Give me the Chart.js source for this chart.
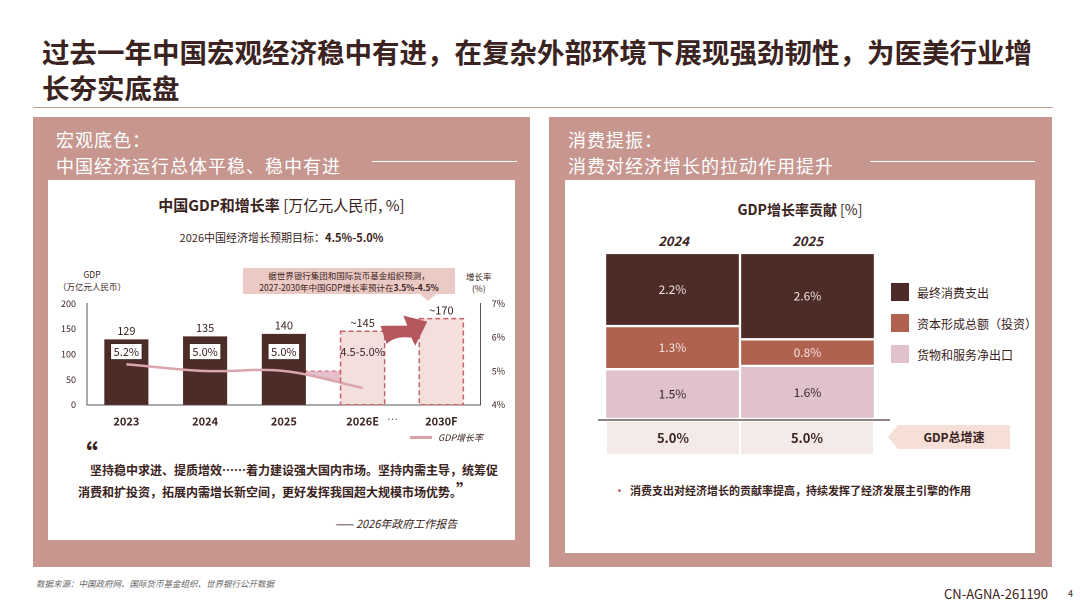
<!DOCTYPE html>
<html><head><meta charset="utf-8">
<script src="https://cdn.jsdelivr.net/npm/chart.js@4"></script>
<style>
body{margin:0;width:1080px;height:609px;background:#fff;font-family:"Noto Sans CJK SC","Noto Sans",sans-serif;position:relative;overflow:hidden;color:#3a2320}
.a{position:absolute}
.panel{background:#c6968f}
.card{background:#fff}
.hd{color:#fff;font-size:18px;line-height:26px;letter-spacing:1px}
.lg{display:flex;align-items:center;font-size:12px;margin-bottom:13px}
.lg i{display:inline-block;width:18px;height:18px;margin-right:8px}
</style></head><body>
<div class="a" style="left:42px;top:33px;font-size:27.5px;font-weight:700;line-height:36px;width:995px">过去一年中国宏观经济稳中有进，在复杂外部环境下展现强劲韧性，为医美行业增长夯实底盘</div>
<div class="a" style="left:33px;top:107px;width:1020px;height:1px;background:#c6968f"></div>

<div class="a panel" style="left:33px;top:117px;width:497px;height:450px"></div>
<div class="a hd" style="left:56px;top:126px">宏观底色：<br>中国经济运行总体平稳、稳中有进</div>
<div class="a" style="left:372px;top:161px;width:145px;height:1px;background:#fff"></div>
<div class="a card" style="left:48px;top:180px;width:467px;height:360px"></div>
<div class="a" style="left:48px;top:194px;width:467px;text-align:center;font-size:15px"><b>中国GDP和增长率</b> [万亿元人民币, %]</div>
<div class="a" style="left:48px;top:229px;width:467px;text-align:center;font-size:11px">2026中国经济增长预期目标：<b>4.5%-5.0%</b></div>
<div class="a" style="left:58px;top:268px;font-size:8.5px;text-align:center;line-height:12px">GDP<br>（万亿元人民币）</div>
<div class="a" style="left:466px;top:270px;font-size:8.5px;text-align:center;line-height:12px">增长率<br>(%)</div>
<div class="a" style="left:243px;top:268px;width:212px;height:26px;background:#ebc9c4"></div>
<div class="a" style="left:243px;top:269px;width:212px;text-align:center;font-size:8.5px;line-height:12px">据世界银行集团和国际货币基金组织预测，<br>2027-2030年中国GDP增长率预计在<b>3.5%-4.5%</b></div>
<div class="a" style="left:420px;top:294px;width:0;height:0;border-left:8px solid transparent;border-right:8px solid transparent;border-top:7px solid #ebc9c4"></div>
<canvas id="gdp" class="a" width="450" height="135" style="left:58px;top:295px"></canvas>
<div class="a" style="left:387px;top:410px;font-size:11px;color:#555;font-family:'DejaVu Sans'">…</div>
<div class="a" style="left:410px;top:431px;font-size:9px;font-style:italic;display:flex;align-items:center"><span style="display:inline-block;width:22px;height:3px;background:#d9a0a8;margin-right:6px"></span>GDP增长率</div>
<div class="a" style="left:70px;top:440px;font-size:28px;font-weight:700;line-height:28px">“</div>
<div class="a" style="left:78px;top:460px;width:420px;font-size:12px;font-weight:700;line-height:20px;text-indent:12px">坚持稳中求进、提质增效……着力建设强大国内市场。坚持内需主导，统筹促消费和扩投资，拓展内需增长新空间，更好发挥我国超大规模市场优势。<span style="font-size:17px">”</span></div>
<div class="a" style="left:335px;top:515px;font-size:11px;font-style:italic">—— 2026年政府工作报告</div>

<div class="a panel" style="left:549px;top:117px;width:503px;height:450px"></div>
<div class="a hd" style="left:568px;top:126px">消费提振：<br>消费对经济增长的拉动作用提升</div>
<div class="a" style="left:870px;top:161px;width:165px;height:1px;background:#fff"></div>
<div class="a card" style="left:565px;top:180px;width:470px;height:373px"></div>
<div class="a" style="left:565px;top:199px;width:470px;text-align:center;font-size:14px"><b>GDP增长率贡献</b> [%]</div>
<div class="a" style="left:607px;top:231px;width:133px;text-align:center;font-size:13px;font-weight:700;font-style:italic">2024</div>
<div class="a" style="left:741px;top:231px;width:133px;text-align:center;font-size:13px;font-weight:700;font-style:italic">2025</div>
<canvas id="contrib" class="a" width="270" height="166" style="left:605px;top:253px"></canvas>
<div class="a" style="left:598px;top:419px;width:292px;height:2px;background:#8e8482"></div>
<div id="totals" class="a" style="left:607px;top:422px;display:flex;gap:2px"></div>
<div id="legend" class="a" style="left:891px;top:283px"></div>
<div class="a" style="left:888px;top:425px;width:0;height:0;border-top:12px solid transparent;border-bottom:12px solid transparent;border-right:10px solid #f5dfd6"></div>
<div class="a" style="left:898px;top:425px;width:112px;height:24px;background:#f5dfd6;text-align:center;font-size:12px;font-weight:700;line-height:24px">GDP总增速</div>
<div class="a" style="left:614px;top:482px;font-size:11px;font-weight:700"><span style="color:#b5585e">•</span>&nbsp; 消费支出对经济增长的贡献率提高，持续发挥了经济发展主引擎的作用</div>

<div class="a" style="left:36px;top:577px;font-size:8.5px;font-style:italic;color:#666">数据来源：中国政府网、国际货币基金组织、世界银行公开数据</div>
<div class="a" style="left:944px;top:584px;font-size:13px">CN-AGNA-261190</div>
<div class="a" style="left:1068px;top:587px;font-size:9px">4</div>
<script>
const years = ['2023','2024','2025','2026E','2030F'];
const gdp = [129, 135, 140, 145, 170];
const gdpLabels = ['129','135','140','~145','~170'];
const growth = [5.2, 5.0, 5.0, 4.5, null];
const growthLabels = ['5.2%','5.0%','5.0%','4.5-5.0%',''];
const forecast = [false, false, false, true, true];

const cYears = ['2024','2025'];
const consumption = [2.2, 2.6];
const investment = [1.3, 0.8];
const netExports = [1.5, 1.6];
const totalGrowth = ['5.0%','5.0%'];
const cNames = ['最终消费支出','资本形成总额（投资）','货物和服务净出口'];
const cColors = ['#4d2b27','#b0624f','#dfc2cd'];

const FONT = '"Noto Sans CJK SC","Noto Sans",sans-serif';
Chart.defaults.font.family = FONT;
Chart.defaults.color = '#3a2320';

const gdpDeco = {
  id:'gdpDeco',
  beforeDatasetsDraw(c){
    const ctx=c.ctx, y1=c.scales.y1, x=c.scales.x;
    const x0=x.getPixelForValue(2), x1=x.getPixelForValue(3);
    ctx.save();
    ctx.fillStyle='rgba(220,170,185,0.75)';
    ctx.beginPath();
    ctx.moveTo(x0,y1.getPixelForValue(5.0));
    ctx.lineTo(x1,y1.getPixelForValue(5.0));
    ctx.lineTo(x1,y1.getPixelForValue(4.5));
    ctx.closePath();ctx.fill();
    ctx.setLineDash([4,3]);ctx.strokeStyle='#c9616a';ctx.lineWidth=1;
    ctx.beginPath();ctx.moveTo(x0+20,y1.getPixelForValue(5.0));ctx.lineTo(x1,y1.getPixelForValue(5.0));ctx.stroke();
    ctx.restore();
  },
  afterDatasetsDraw(c){
    const ctx=c.ctx, y=c.scales.y, x=c.scales.x, meta=c.getDatasetMeta(0);
    ctx.save();
    ctx.textAlign='center';
    meta.data.forEach((b,i)=>{
      if(forecast[i]){
        ctx.save();ctx.setLineDash([5,3]);ctx.strokeStyle='#c9616a';ctx.lineWidth=1.5;
        ctx.strokeRect(b.x-b.width/2,b.y,b.width,b.base-b.y);ctx.restore();
      }
      ctx.font='11px '+FONT;ctx.fillStyle='#3a2320';ctx.textBaseline='bottom';
      ctx.fillText(gdpLabels[i], b.x, b.y-3);
      if(!growthLabels[i]) return;
      const ly=y.getPixelForValue(105);
      ctx.textBaseline='middle';
      if(!forecast[i]){
        const w=ctx.measureText(growthLabels[i]).width+6;
        ctx.fillStyle='#fff';ctx.fillRect(b.x-w/2,ly-8,w,16);
        ctx.strokeStyle='#3a2320';ctx.lineWidth=0.8;ctx.strokeRect(b.x-w/2,ly-8,w,16);
      }
      ctx.fillStyle='#3a2320';ctx.fillText(growthLabels[i], b.x, ly);
    });
    // curved arrow 2026E -> 2030F
    const ax=x.getPixelForValue(3)+meta.data[3].width/2+2, ay=y.getPixelForValue(120);
    const tx=x.getPixelForValue(4)-meta.data[4].width/2+8, ty=y.getPixelForValue(172);
    ctx.fillStyle='#b5585e';
    ctx.beginPath();
    ctx.moveTo(ax,ay);
    ctx.quadraticCurveTo(ax+8,ty+18,tx-16,ty+20);
    ctx.lineTo(tx-12,ty+28);ctx.lineTo(tx,ty+4);ctx.lineTo(tx-24,ty-2);ctx.lineTo(tx-20,ty+8);
    ctx.quadraticCurveTo(ax-6,ty+8,ax-6,ay-18);
    ctx.closePath();ctx.fill();
    ctx.restore();
  }
};

new Chart(document.getElementById('gdp'),{
  data:{labels:years,datasets:[
    {type:'bar',data:gdp,yAxisID:'y',order:2,
     backgroundColor:forecast.map(f=>f?'#f3e0dc':'#4d2b27'),
     borderWidth:0,barPercentage:0.56,categoryPercentage:1},
    {type:'line',data:growth,yAxisID:'y1',order:1,borderColor:'#dba5ad',borderWidth:2.5,
     pointRadius:0,tension:0.35,spanGaps:false}
  ]},
  options:{responsive:false,animation:false,devicePixelRatio:2,
    layout:{padding:{top:8,right:0}},
    plugins:{legend:{display:false},tooltip:{enabled:false}},
    scales:{
      x:{grid:{display:false},border:{color:'#555'},ticks:{font:{size:11,weight:'bold'},color:'#3a2320',padding:2}},
      y:{min:0,max:200,ticks:{stepSize:50,font:{size:9}},grid:{display:false},border:{color:'#555'}},
      y1:{position:'right',min:4,max:7,ticks:{stepSize:1,font:{size:9},callback:v=>v+'%'},grid:{display:false},border:{color:'#555'}}
    }
  },
  plugins:[gdpDeco]
});

const cLabels={id:'cLabels',afterDatasetsDraw(c){
  const ctx=c.ctx;ctx.save();ctx.textAlign='center';ctx.textBaseline='middle';ctx.font='12px '+FONT;
  c.data.datasets.forEach((ds,di)=>{
    c.getDatasetMeta(di).data.forEach((b,i)=>{
      ctx.fillStyle=di==0?'#3a2320':'#f4e6e3';
      ctx.fillText(ds.data[i].toFixed(1)+'%',b.x,(b.y+b.base)/2);
    });
  });ctx.restore();}};

new Chart(document.getElementById('contrib'),{
  type:'bar',
  data:{labels:cYears,datasets:[
    {label:cNames[2],data:netExports,backgroundColor:cColors[2]},
    {label:cNames[1],data:investment,backgroundColor:cColors[1]},
    {label:cNames[0],data:consumption,backgroundColor:cColors[0]}
  ].map(d=>Object.assign(d,{borderColor:'#fff',borderWidth:1.5,borderSkipped:false,barPercentage:1,categoryPercentage:1}))},
  options:{responsive:false,animation:false,devicePixelRatio:2,
    layout:{padding:0},
    plugins:{legend:{display:false},tooltip:{enabled:false}},
    scales:{x:{stacked:true,display:false},y:{stacked:true,display:false,min:0,max:5}}},
  plugins:[cLabels]
});

document.getElementById('legend').innerHTML=cNames.map((n,i)=>`<div class="lg"><i style="background:${cColors[i]}"></i>${n}</div>`).join('');
document.getElementById('totals').innerHTML=totalGrowth.map(t=>`<div style="width:132px;height:32px;background:#f4ebe8;text-align:center;line-height:32px;font-size:13px;font-weight:700">${t}</div>`).join('');
</script>
</body></html>
